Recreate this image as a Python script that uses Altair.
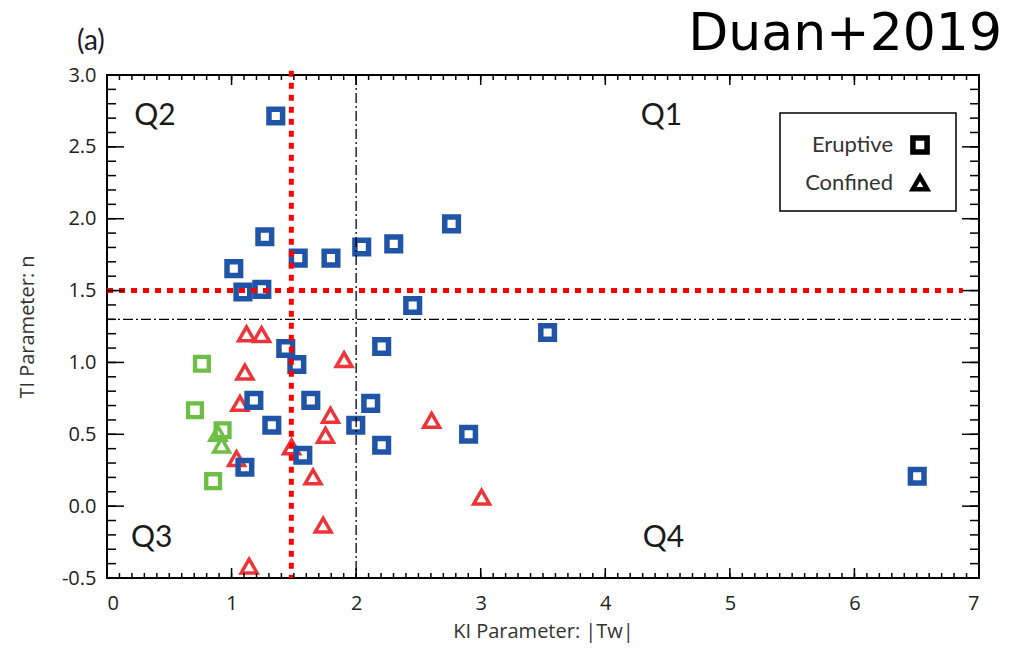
import altair as alt
import pandas as pd

# ---------------- data ----------------
erupt_blue_x = [1.355, 1.267, 1.018, 1.091, 1.243, 1.535, 1.798, 2.045, 2.302, 2.766,
                2.454, 3.537, 2.205, 1.435, 1.524, 1.179, 1.636, 2.117, 1.323, 1.997,
                2.205, 2.903, 1.107, 1.572, 6.504]
erupt_blue_y = [2.715, 1.875, 1.653, 1.490, 1.508, 1.726, 1.726, 1.803, 1.825, 1.964,
                1.396, 1.208, 1.111, 1.097, 0.986, 0.736, 0.736, 0.715, 0.563, 0.563,
                0.424, 0.500, 0.271, 0.354, 0.208]

erupt_green_x = [0.762, 0.706, 0.928, 0.852]
erupt_green_y = [0.991, 0.667, 0.528, 0.174]

conf_red_x = [1.120, 1.241, 1.903, 1.107, 1.067, 1.794, 1.754, 1.481, 1.040, 1.654,
              2.606, 3.007, 1.735, 1.141]
conf_red_y = [1.199, 1.194, 1.019, 0.933, 0.715, 0.632, 0.493, 0.412, 0.331, 0.204,
              0.597, 0.063, -0.132, -0.417]

conf_green_x = [0.890, 0.920]
conf_green_y = [0.507, 0.424]

x_major = [0, 1, 2, 3, 4, 5, 6, 7]
y_major = [-0.5, 0.0, 0.5, 1.0, 1.5, 2.0, 2.5, 3.0]
x_minor = [round(i * 0.1, 1) for i in range(71)]
y_minor = [round(-0.5 + i * 0.1, 1) for i in range(36)]

quad_labels = ["Q1", "Q2", "Q3", "Q4"]
quad_x = [4.45, 0.385, 0.358, 4.467]
quad_y = [2.715, 2.715, -0.222, -0.222]

red_vline_x = 1.48
red_vline_y = [3.03, -0.5]
red_hline_y = 1.5
red_hline_x = [0.0, 6.87]
black_vline_x = 2.0
black_hline_y = 1.3

# ---------------- layout ----------------
W, H = 872, 503
PAD = {"left": 107, "top": 75, "right": 33, "bottom": 73}

BLUE = "#1F54A6"
RED = "#EC3439"
GREEN = "#6DBE45"

xs = alt.Scale(domain=[0, 7], nice=False, zero=False)
ys = alt.Scale(domain=[-0.5, 3.0], nice=False, zero=False)

x_axis = alt.Axis(values=x_major, format="d", ticks=False, domain=False, grid=False,
                  labelFont="Open Sans", labelFontSize=20, labelColor="#222",
                  labelPadding=15, title="KI Parameter: |Tw|", titleFont="Open Sans",
                  titleFontSize=20, titleFontWeight="normal", titleColor="#333",
                  titlePadding=8)
y_axis = alt.Axis(values=y_major, ticks=False, domain=False, grid=False,
                  labelExpr="datum.value < 0 ? '-' + format(-datum.value, '.1f') : format(datum.value, '.1f')",
                  labelFont="Open Sans", labelFontSize=20, labelColor="#222",
                  labelPadding=11, title="TI Parameter: n", titleFont="Open Sans",
                  titleFontSize=20, titleFontWeight="normal", titleColor="#333",
                  titlePadding=24)


def X(field=None, datum=None):
    if datum is not None:
        return alt.X(datum=datum, scale=xs, axis=x_axis)
    return alt.X(field, type="quantitative", scale=xs, axis=x_axis)


def Y(field=None, datum=None):
    if datum is not None:
        return alt.Y(datum=datum, scale=ys, axis=y_axis)
    return alt.Y(field, type="quantitative", scale=ys, axis=y_axis)


def pts(xv, yv):
    return pd.DataFrame({"x": xv, "y": yv})


def enc_xy(ch):
    return ch.encode(x=X("x"), y=Y("y"))


red_tri = enc_xy(alt.Chart(pts(conf_red_x, conf_red_y)).mark_point(
    shape="triangle-up", filled=False, size=250, strokeWidth=3.5, color=RED, opacity=1))
green_tri = enc_xy(alt.Chart(pts(conf_green_x, conf_green_y)).mark_point(
    shape="triangle-up", filled=False, size=250, strokeWidth=3.5, color=GREEN, opacity=1))
green_sq = enc_xy(alt.Chart(pts(erupt_green_x, erupt_green_y)).mark_point(
    shape="square", filled=False, size=190, strokeWidth=4.3, color=GREEN, opacity=1))
blue_sq = enc_xy(alt.Chart(pts(erupt_blue_x, erupt_blue_y)).mark_point(
    shape="square", filled=False, size=185, strokeWidth=5.5, color=BLUE, opacity=1))

one = pd.DataFrame({"k": [0]})

# threshold lines
black_v = alt.Chart(one).mark_rule(color="black", strokeWidth=1.3, strokeDash=[10, 3, 2, 3]).encode(
    x=X(datum=black_vline_x))
black_h = alt.Chart(one).mark_rule(color="black", strokeWidth=1.3, strokeDash=[10, 3, 2, 3]).encode(
    y=Y(datum=black_hline_y))
red_v = alt.Chart(one).mark_rule(color="#FF0000", strokeWidth=5, strokeDash=[6, 6]).encode(
    x=X(datum=red_vline_x),
    y=Y(datum=red_vline_y[0]),
    y2=alt.Y2(datum=red_vline_y[1]))
red_h = alt.Chart(one).mark_rule(color="#FF0000", strokeWidth=5, strokeDash=[6, 6]).encode(
    y=Y(datum=red_hline_y),
    x=X(datum=red_hline_x[0]),
    x2=alt.X2(datum=red_hline_x[1]))

# inward ticks on all four sides
tick_layers = []
for vals, ln in [(x_minor, 5), (x_major, 10)]:
    d = pd.DataFrame({"x": vals})
    for y0, y1 in [(H, H - ln), (0, ln)]:
        tick_layers.append(alt.Chart(d).mark_rule(color="black", strokeWidth=1.5).encode(
            x=X("x"), y=alt.value(y0), y2=alt.value(y1)))
for vals, ln in [(y_minor, 9), (y_major, 17)]:
    d = pd.DataFrame({"y": vals})
    for x0, x1 in [(0, ln), (W, W - ln)]:
        tick_layers.append(alt.Chart(d).mark_rule(color="black", strokeWidth=1.5).encode(
            y=Y("y"), x=alt.value(x0), x2=alt.value(x1)))

# quadrant labels
quads = alt.Chart(pd.DataFrame({"x": quad_x, "y": quad_y, "t": quad_labels})).mark_text(
    font="Lato", fontSize=30, color="#1a1a1a", align="center", baseline="middle").encode(
    x=X("x"), y=Y("y"), text="t:N")

# legend box
leg_box = alt.Chart(one).mark_rect(fill="white", stroke="black", strokeWidth=1.5).encode(
    x=alt.value(673), x2=alt.value(849), y=alt.value(38), y2=alt.value(136))
leg_t1 = alt.Chart(one).mark_text(text="Eruptive", font="Lato", fontSize=22, color="#333",
                                  align="right", baseline="middle").encode(
    x=alt.value(786), y=alt.value(70))
leg_t2 = alt.Chart(one).mark_text(text="Confined", font="Lato", fontSize=22, color="#333",
                                  align="right", baseline="middle").encode(
    x=alt.value(786), y=alt.value(108))
leg_s1 = alt.Chart(one).mark_point(shape="square", filled=False, size=200, strokeWidth=5.5,
                                   color="black", opacity=1).encode(
    x=alt.value(813), y=alt.value(70))
leg_s2 = alt.Chart(one).mark_point(shape="triangle-up", filled=False, size=210, strokeWidth=4.5,
                                   color="black", opacity=1).encode(
    x=alt.value(813), y=alt.value(108))

# outer texts
panel = alt.Chart(one).mark_text(text="(a)", font="Lato", fontSize=28, color="#1a1a2a",
                                 align="left", baseline="middle").encode(
    x=alt.value(-30), y=alt.value(-33))
cite = alt.Chart(one).mark_text(text="Duan+2019", font="DejaVu Sans", fontSize=52, color="black",
                                align="right", baseline="alphabetic").encode(
    x=alt.value(895), y=alt.value(-25))

chart = alt.layer(
    red_tri, green_tri, green_sq, blue_sq,
    black_v, black_h, red_v, red_h,
    *tick_layers, quads, leg_box, leg_t1, leg_t2, leg_s1, leg_s2, panel, cite
).properties(
    width=W, height=H, padding=PAD,
    autosize=alt.AutoSizeParams(type="none"),
    background="white",
).configure_view(stroke="black", strokeWidth=2)

chart.save("out.html", embed_options={"renderer": "svg", "actions": False})
